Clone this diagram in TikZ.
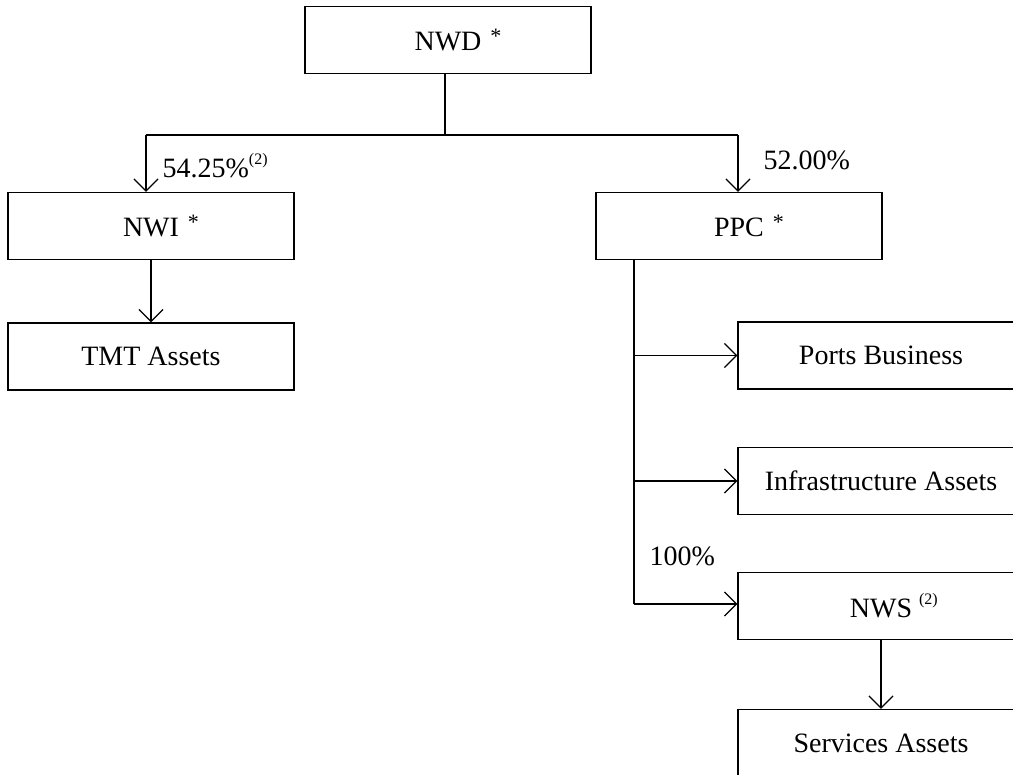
\documentclass[tikz,border=0pt]{standalone}
\usepackage{fontspec}
\setmainfont{Liberation Serif}
\usetikzlibrary{arrows.meta}
\newcommand{\noteref}[1]{\raisebox{6.5pt}{\fontsize{8}{8}\selectfont(#1)}}
\newcommand{\listed}{\rlap{\hspace{4.5pt}\raisebox{3.5pt}{\fontsize{11}{11}\selectfont *}}}
\tikzset{
    every node/.style={inner sep=0mm, font=\fontsize{14}{16}\selectfont},
    box/.style={rectangle, draw, minimum width=143pt, minimum height=33.5pt}
}
\tikzset{>={Straight Barb[length=6pt,width=12pt]}}

\begin{document}
\begin{tikzpicture}[x=0.5pt, y=-0.5pt, line width=0.65pt]
        \useasboundingbox (0,0) rectangle (1013,775);
        \node (nwd) [box] at (448, 40) {NWD\listed};
        \node (nwi) [box] at (151, 226) {NWI\listed};
        \node (ppc) [box] at (739, 226) {PPC\listed};
        \node (tmt) [box] at (151, 356.5) {TMT Assets};
        \node (ports) [box] at (881, 355.5) {Ports Business};
        \node (infra) [box] at (881, 481) {Infrastructure Assets};
        \node (nws) [box] at (881, 606) {NWS\rlap{\hspace{3.5pt}\noteref{2}}};
        \node (svc) [box] at (881, 743) {Services Assets};
        \node (p1) [anchor=base west] at (162, 178) {54.25\%\noteref{2}};
        \node (p2) [anchor=base west] at (763, 170) {52.00\%};
        \node (p3) [anchor=base west] at (649, 565) {100\%};
        \coordinate (j1) at (146, 135);
        \coordinate (j2) at (738, 135);
        \coordinate (k0) at (634, 259);
        \coordinate (k3) at (634, 604);
        \draw (nwd.south -| 445,0) edge (445, 135);
        \draw (j1) edge (j2);
        \draw (j1) edge [->] (j1 |- nwi.north);
        \draw (j2) edge [->] (j2 |- ppc.north);
        \draw (nwi) edge [->] (tmt);
        \draw (k0) edge (k3);
        \draw (k0 |- ports) edge [->] (ports.west);
        \draw (k0 |- infra) edge [->] (infra.west);
        \draw (k3) edge [->] (k3 -| nws.west);
        \draw (nws) edge [->] (svc);
\end{tikzpicture}
\end{document}
